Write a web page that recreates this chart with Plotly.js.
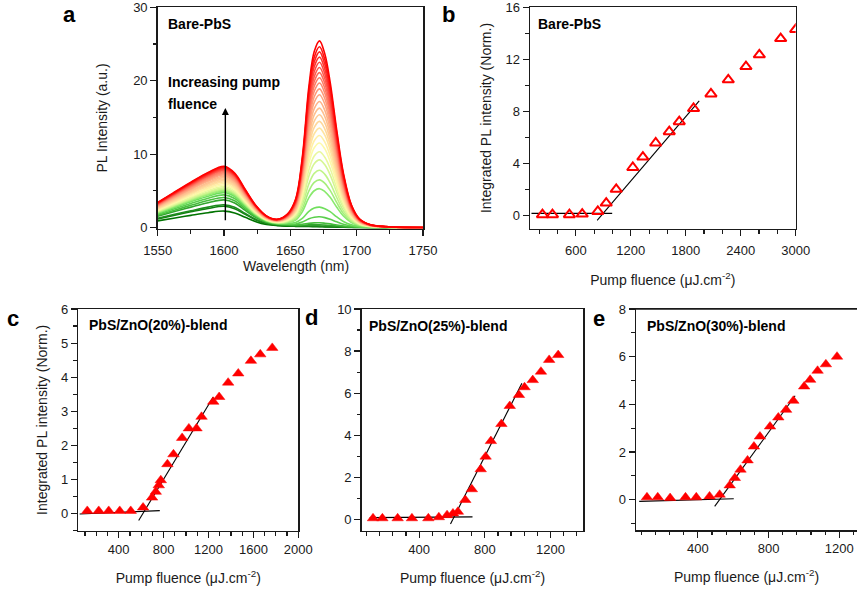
<!DOCTYPE html>
<html><head><meta charset="utf-8">
<script src="https://cdn.plot.ly/plotly-3.0.1.min.js"></script>
<style>body{margin:0;background:#fff}#chart{width:857px;height:598px}</style>
</head><body><div id="chart"></div>
<script>
// ---------- Panel a: PL spectra (Bare-PbS), low -> high pump fluence ----------
const wavelength = [1550,1562,1575,1588,1600,1608,1616,1624,1632,1640,1648,1654,1659,1664,1668,1672,1676,1680,1685,1690,1696,1702,1710,1722,1750];
const spectra = [
[0.92,1.28,1.67,2.03,2.25,2.0,1.4,0.81,0.43,0.27,0.2,0.17,0.15,0.14,0.13,0.12,0.1,0.09,0.07,0.05,0.03,0.02,0.02,0.01,0],
[1.19,1.65,2.15,2.61,2.9,2.58,1.8,1.04,0.55,0.35,0.26,0.22,0.2,0.19,0.18,0.17,0.15,0.12,0.09,0.07,0.04,0.03,0.02,0.01,0.01],
[1.27,1.77,2.29,2.79,3.1,2.76,1.92,1.12,0.59,0.37,0.28,0.24,0.22,0.22,0.22,0.2,0.18,0.15,0.11,0.08,0.05,0.04,0.02,0.01,0.01],
[1.55,2.15,2.79,3.39,3.77,3.36,2.34,1.36,0.72,0.45,0.35,0.31,0.32,0.37,0.39,0.38,0.34,0.29,0.21,0.13,0.08,0.05,0.03,0.02,0.01],
[1.68,2.34,3.03,3.69,4.1,3.65,2.54,1.48,0.78,0.49,0.39,0.37,0.44,0.59,0.65,0.66,0.6,0.51,0.35,0.22,0.11,0.06,0.04,0.02,0.01],
[1.82,2.54,3.29,4.0,4.45,3.96,2.76,1.6,0.85,0.54,0.46,0.5,0.75,1.21,1.42,1.48,1.36,1.14,0.78,0.46,0.21,0.1,0.05,0.02,0.01],
[1.95,2.71,3.52,4.28,4.76,4.24,2.95,1.71,0.9,0.58,0.55,0.7,1.24,2.2,2.66,2.79,2.58,2.17,1.46,0.84,0.37,0.17,0.07,0.03,0.01],
[2.03,2.82,3.66,4.46,4.95,4.41,3.07,1.78,0.94,0.62,0.68,1.03,2.15,4.08,5.02,5.3,4.91,4.12,2.77,1.57,0.68,0.28,0.11,0.04,0.01],
[2.09,2.91,3.77,4.59,5.1,4.54,3.16,1.84,0.97,0.64,0.74,1.2,2.59,4.99,6.15,6.5,6.03,5.06,3.39,1.92,0.82,0.34,0.12,0.05,0.01],
[2.15,2.99,3.89,4.73,5.25,4.67,3.26,1.89,1.0,0.67,0.82,1.38,3.07,5.97,7.38,7.81,7.25,6.08,4.07,2.3,0.98,0.4,0.14,0.05,0.01],
[2.21,3.08,4.0,4.86,5.4,4.81,3.35,1.94,1.03,0.69,0.89,1.58,3.58,7.03,8.7,9.22,8.55,7.18,4.8,2.71,1.15,0.46,0.16,0.06,0.01],
[2.3,3.19,4.14,5.04,5.6,4.98,3.47,2.02,1.06,0.72,0.96,1.73,3.99,7.87,9.75,10.32,9.58,8.04,5.38,3.03,1.29,0.51,0.18,0.06,0.01],
[2.38,3.31,4.29,5.22,5.8,5.16,3.6,2.09,1.1,0.75,1.03,1.9,4.43,8.78,10.88,11.53,10.71,8.98,6.01,3.38,1.43,0.57,0.2,0.07,0.01],
[2.46,3.42,4.44,5.4,6.0,5.34,3.72,2.16,1.14,0.78,1.09,2.05,4.81,9.54,11.83,12.54,11.64,9.77,6.53,3.68,1.55,0.61,0.21,0.07,0.01],
[2.54,3.53,4.59,5.58,6.2,5.52,3.84,2.23,1.18,0.81,1.16,2.19,5.18,10.3,12.78,13.55,12.58,10.55,7.06,3.97,1.68,0.66,0.23,0.08,0.01],
[2.62,3.65,4.74,5.76,6.4,5.7,3.97,2.3,1.22,0.84,1.22,2.33,5.52,10.98,13.64,14.46,13.42,11.26,7.53,4.23,1.79,0.7,0.24,0.08,0.01],
[2.71,3.76,4.88,5.94,6.6,5.87,4.09,2.38,1.25,0.87,1.27,2.46,5.85,11.67,14.49,15.36,14.27,11.97,8.0,4.5,1.9,0.75,0.26,0.09,0.01],
[2.79,3.88,5.03,6.12,6.8,6.05,4.22,2.45,1.29,0.9,1.33,2.59,6.19,12.35,15.35,16.27,15.11,12.68,8.48,4.76,2.01,0.79,0.27,0.09,0.01],
[2.87,3.99,5.18,6.3,7.0,6.23,4.34,2.52,1.33,0.93,1.39,2.72,6.53,13.04,16.2,17.18,15.96,13.39,8.95,5.03,2.12,0.83,0.29,0.1,0.01],
[2.93,4.08,5.29,6.44,7.15,6.36,4.43,2.57,1.36,0.95,1.44,2.85,6.86,13.72,17.05,18.09,16.8,14.09,9.42,5.29,2.23,0.87,0.3,0.1,0.01],
[2.99,4.16,5.4,6.57,7.3,6.5,4.53,2.63,1.39,0.97,1.49,2.97,7.16,14.33,17.81,18.89,17.55,14.72,9.84,5.53,2.33,0.91,0.31,0.1,0.01],
[3.05,4.25,5.51,6.71,7.45,6.63,4.62,2.68,1.42,0.99,1.54,3.08,7.45,14.94,18.57,19.7,18.3,15.35,10.26,5.76,2.43,0.95,0.32,0.11,0.01],
[3.12,4.33,5.62,6.84,7.6,6.76,4.71,2.74,1.44,1.01,1.59,3.18,7.72,15.47,19.24,20.4,18.95,15.9,10.63,5.97,2.51,0.98,0.33,0.11,0.02],
[3.18,4.42,5.74,6.98,7.75,6.9,4.81,2.79,1.47,1.03,1.63,3.29,7.98,16.0,19.9,21.11,19.61,16.45,10.99,6.17,2.6,1.01,0.35,0.11,0.02],
[3.22,4.47,5.81,7.07,7.85,6.99,4.87,2.83,1.49,1.05,1.67,3.38,8.23,16.53,20.56,21.81,20.26,17.0,11.36,6.38,2.68,1.05,0.36,0.12,0.02],
[3.26,4.53,5.88,7.16,7.95,7.08,4.93,2.86,1.51,1.07,1.72,3.48,8.49,17.06,21.23,22.52,20.92,17.55,11.73,6.58,2.77,1.08,0.37,0.12,0.02],
[3.3,4.59,5.96,7.25,8.05,7.16,4.99,2.9,1.53,1.08,1.76,3.58,8.75,17.59,21.89,23.22,21.57,18.1,12.09,6.79,2.85,1.11,0.38,0.12,0.02],
[3.34,4.65,6.03,7.34,8.15,7.25,5.05,2.93,1.55,1.1,1.8,3.68,9.01,18.12,22.55,23.93,22.23,18.64,12.46,6.99,2.94,1.14,0.39,0.13,0.02],
[3.38,4.7,6.11,7.43,8.25,7.34,5.12,2.97,1.57,1.11,1.84,3.78,9.27,18.65,23.21,24.63,22.88,19.19,12.83,7.2,3.02,1.18,0.4,0.13,0.02],
[3.42,4.76,6.18,7.52,8.35,7.43,5.18,3.01,1.59,1.13,1.88,3.89,9.56,19.26,23.97,25.43,23.63,19.82,13.24,7.43,3.12,1.21,0.41,0.13,0.02]
];

// ---------- Panel b: Bare-PbS integrated PL ----------
const bFluence = [236,345,530,670,840,932,1041,1222,1332,1472,1620,1729,1885,2075,2264,2457,2603,2836,3000];
const bIntensity = [0.08,0.08,0.08,0.12,0.33,0.97,2.02,3.7,4.5,5.58,6.45,7.22,8.23,9.35,10.43,11.45,12.35,13.6,14.3];
const bFitFlatX = [116,997], bFitFlatY = [0.18,0.18];
const bFitSlopeX = [833,1947], bFitSlopeY = [-0.36,8.82];

// ---------- Panel c: PbS/ZnO(20%)-blend ----------
const cFluence = [120,222,311,409,507,617,697,730,757,775,834,888,965,1025,1093,1138,1242,1295,1375,1465,1578,1661,1768];
const cIntensity = [0.08,0.08,0.08,0.08,0.08,0.18,0.47,0.64,0.83,0.98,1.45,1.74,2.22,2.5,2.5,2.84,3.28,3.42,3.84,4.11,4.48,4.67,4.86];
const cFitFlatX = [52,766], cFitFlatY = [-0.01,0.09];
const cFitSlopeX = [578,1242], cFitSlopeY = [-0.2,3.42];

// ---------- Panel d: PbS/ZnO(25%)-blend ----------
const dFluence = [119,176,269,356,456,520,570,606,636,681,721,775,805,837,901,952,1008,1042,1092,1142,1192,1247];
const dIntensity = [0.05,0.05,0.05,0.05,0.05,0.1,0.2,0.28,0.36,0.92,1.43,2.38,2.98,3.72,4.53,5.39,5.91,6.28,6.62,7.02,7.58,7.81];
const dFitFlatX = [99,725], dFitFlatY = [0.08,0.12];
const dFitSlopeX = [591,1026], dFitSlopeY = [-0.22,6.47];

// ---------- Panel e: PbS/ZnO(30%)-blend ----------
const eFluence = [112,173,243,330,391,466,523,580,609,641,681,717,751,808,855,899,940,1001,1035,1077,1124,1187];
const eIntensity = [0.1,0.1,0.07,0.1,0.1,0.14,0.21,0.6,0.91,1.26,1.65,2.23,2.65,3.07,3.45,3.77,4.15,4.75,5.03,5.41,5.68,6.0];
const eFitFlatX = [68,603], eFitFlatY = [-0.07,0.04];
const eFitSlopeX = [495,950], eFitSlopeY = [-0.28,4.36];

// ---------- styling ----------
const W = 857, H = 598;
const fx = p => p / W, fy = p => 1 - p / H;
const FONT = 'Liberation Sans, Arial, Helvetica, sans-serif';
const INK = '#1a1a1a';
const colorStops = [
  [0.00,[0,115,0]],[0.07,[30,140,30]],[0.14,[70,190,60]],[0.22,[120,230,100]],
  [0.32,[200,245,140]],[0.42,[255,250,170]],[0.55,[255,205,150]],[0.70,[255,150,120]],
  [0.85,[255,80,70]],[1.00,[255,0,0]]
];
function rampColor(t){
  for(let k=1;k<colorStops.length;k++){
    if(t<=colorStops[k][0]){
      const [t0,c0]=colorStops[k-1],[t1,c1]=colorStops[k];
      const f=(t-t0)/(t1-t0);
      return 'rgb('+c0.map((v,j)=>Math.round(v+(c1[j]-v)*f)).join(',')+')';
    }
  }
  return 'rgb(255,0,0)';
}

const traces = [];
spectra.forEach((ys,i)=>{
  traces.push({x:wavelength,y:ys,type:'scatter',mode:'lines',xaxis:'x',yaxis:'y',
    line:{color:rampColor(i/(spectra.length-1)),width:1.6,shape:'spline',smoothing:1},
    showlegend:false,hoverinfo:'skip'});
});
function fitLines(xa,ya,fx1,fy1,fx2,fy2){
  traces.push({x:fx1,y:fy1,type:'scatter',mode:'lines',xaxis:xa,yaxis:ya,line:{color:'#000',width:1.2},showlegend:false});
  traces.push({x:fx2,y:fy2,type:'scatter',mode:'lines',xaxis:xa,yaxis:ya,line:{color:'#000',width:1.1},showlegend:false});
}
function markers(xa,ya,xs,ys,open){
  traces.push({x:xs,y:ys,type:'scatter',mode:'markers',xaxis:xa,yaxis:ya,showlegend:false,
    marker: open ? {symbol:'triangle-up-open',size:10,color:'#ff0000',line:{color:'#ff0000',width:2}}
                 : {symbol:'triangle-up',size:10,color:'#ff0000',line:{color:'#ff0000',width:0.5}}});
}
fitLines('x2','y2',bFitFlatX,bFitFlatY,bFitSlopeX,bFitSlopeY);
markers('x2','y2',bFluence,bIntensity,true);
fitLines('x3','y3',cFitFlatX,cFitFlatY,cFitSlopeX,cFitSlopeY);
markers('x3','y3',cFluence,cIntensity,false);
fitLines('x4','y4',dFitFlatX,dFitFlatY,dFitSlopeX,dFitSlopeY);
markers('x4','y4',dFluence,dIntensity,false);
fitLines('x5','y5',eFitFlatX,eFitFlatY,eFitSlopeX,eFitSlopeY);
markers('x5','y5',eFluence,eIntensity,false);

function ax(o){
  return Object.assign({showline:true,linecolor:INK,linewidth:1.5,mirror:true,ticks:'outside',ticklen:6,tickwidth:1.2,
    tickcolor:INK,showgrid:false,zeroline:false,tickfont:{size:13,color:INK,family:FONT},fixedrange:true,
    ticklabeloverflow:'allow'},o);
}
function minor(d){return {ticks:'outside',ticklen:3.5,tickwidth:1.2,tickcolor:INK,dtick:d,tick0:0,showgrid:false};}
const fluenceTitle = 'Pump fluence (\u03bcJ.cm<sup>-2</sup>)';
const titleFont = {size:14,color:INK,family:FONT};

const layout = {
  width:W,height:H,margin:{l:0,r:0,t:0,b:0},paper_bgcolor:'#fff',plot_bgcolor:'#fff',
  font:{family:FONT,color:INK},showlegend:false,
  xaxis: ax({domain:[fx(157.7),fx(423)],anchor:'y',range:[1550,1750],dtick:50,tick0:1550,minor:minor(25),
    ticklabelstandoff:3}),
  yaxis: ax({domain:[fy(228.7),fy(7.3)],anchor:'x',range:[-0.15,30],dtick:10,tick0:0,minor:minor(5),
    title:{text:'PL Intensity (a.u.)',font:titleFont,standoff:22}}),
  xaxis2: ax({domain:[fx(530),fx(795.7)],anchor:'y2',range:[100,3000],dtick:600,tick0:0,minor:minor(200),
    ticklabelstandoff:3,title:{text:fluenceTitle,font:titleFont,standoff:18}}),
  yaxis2: ax({domain:[fy(228.7),fy(7.3)],anchor:'x2',range:[-1,16],dtick:4,tick0:0,minor:minor(2),
    title:{text:'Integrated PL intensity (Norm.)',font:titleFont,standoff:10}}),
  xaxis3: ax({domain:[fx(78.3),fx(298.3)],anchor:'y3',range:[40,2000],dtick:400,tick0:0,minor:minor(100),
    title:{text:fluenceTitle,font:titleFont,standoff:17}}),
  yaxis3: ax({domain:[fy(530.7),fy(309)],anchor:'x3',range:[-0.5,6],dtick:1,tick0:0,minor:minor(0.5),
    title:{text:'Integrated PL intensity (Norm.)',font:titleFont,standoff:10}}),
  xaxis4: ax({domain:[fx(361.7),fx(583.3)],anchor:'y4',range:[50,1400],dtick:400,tick0:0,minor:minor(80),
    title:{text:fluenceTitle,font:titleFont,standoff:17}}),
  yaxis4: ax({domain:[fy(530.7),fy(309)],anchor:'x4',range:[-0.54,10],dtick:2,tick0:0,minor:minor(1)}),
  xaxis5: ax({domain:[fx(636),1],anchor:'y5',range:[50,1300],dtick:400,tick0:0,minor:minor(80),
    title:{text:fluenceTitle,font:titleFont,standoff:17}}),
  yaxis5: ax({domain:[fy(530),fy(309)],anchor:'x5',range:[-1.27,8],dtick:2,tick0:0,minor:minor(1),mirror:false}),
  shapes:[
    {type:'line',xref:'paper',yref:'paper',x0:fx(636),x1:1,y0:fy(309),y1:fy(309),line:{color:INK,width:1.5}}
  ],
  annotations:[]
};

const A = layout.annotations;
function label(txt,px,py,size,anchor,color){
  A.push({text:txt,xref:'paper',yref:'paper',x:fx(px),y:fy(py),xanchor:anchor||'left',yanchor:'middle',
    showarrow:false,font:{size:size,color:color||'#000',family:FONT}});
}
// x-axis title of panel a (sits tight under its tick labels)
label('Wavelength (nm)',296,266,14,'center',INK);
// panel letters
label('<b>a</b>',69,15,22,'center');
label('<b>b</b>',448,15,22,'center');
label('<b>c</b>',12.5,318,22,'center');
label('<b>d</b>',311,317,22,'center');
label('<b>e</b>',599,318,22,'center');
// panel titles
label('<b>Bare-PbS</b>',166,24,14);
label('<b>Bare-PbS</b>',535.5,23.5,14);
label('<b>PbS/ZnO(20%)-blend</b>',87,324.5,14);
label('<b>PbS/ZnO(25%)-blend</b>',366.5,326,14);
label('<b>PbS/ZnO(30%)-blend</b>',644.5,326,14);
// arrow annotation in panel a
A.push({xref:'x',yref:'y',axref:'x',ayref:'y',x:1601,y:16.3,ax:1601,ay:0.8,text:'',showarrow:true,
  arrowhead:2,arrowsize:1,arrowwidth:1.4,arrowcolor:'#000'});
label('<b>Increasing pump</b>',166,82,14);
label('<b>fluence</b>',166,104.5,14);

Plotly.newPlot('chart',traces,layout,{staticPlot:true});
</script>
</body></html>
